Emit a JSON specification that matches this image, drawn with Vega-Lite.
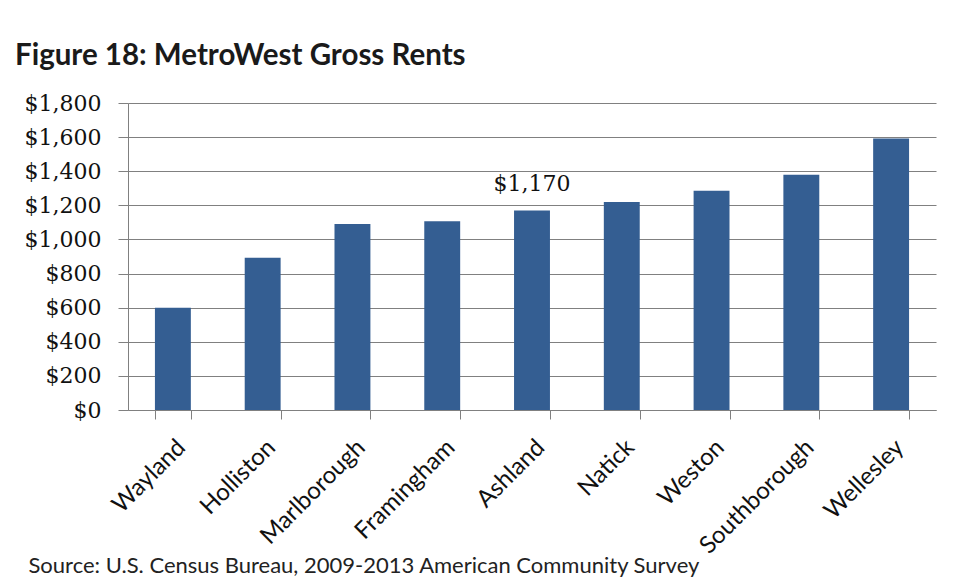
{
  "$schema": "https://vega.github.io/schema/vega-lite/v6.json",
  "width": 808,
  "height": 307,
  "autosize": {"type": "none"},
  "padding": {"left": 128, "top": 103, "right": 20, "bottom": 173},
  "background": "white",
  "title": {
    "text": "Figure 18: MetroWest Gross Rents",
    "anchor": "start",
    "frame": "group",
    "dx": -113,
    "offset": 21,
    "font": "Lato",
    "fontSize": 29.5,
    "fontWeight": "bold",
    "color": "#1a1a1a"
  },
  "data": {
    "values": [
      {"town": "Wayland", "rent": 600},
      {"town": "Holliston", "rent": 892},
      {"town": "Marlborough", "rent": 1090},
      {"town": "Framingham", "rent": 1107},
      {"town": "Ashland", "rent": 1170},
      {"town": "Natick", "rent": 1220},
      {"town": "Weston", "rent": 1286},
      {"town": "Southborough", "rent": 1380},
      {"town": "Wellesley", "rent": 1592}
    ]
  },
  "encoding": {
    "x": {
      "field": "town",
      "type": "nominal",
      "sort": null,
      "scale": {"paddingInner": 0.6, "paddingOuter": 0.3},
      "axis": {
        "title": "Source: U.S. Census Bureau, 2009-2013   American Community Survey",
        "titleAnchor": "start",
        "titleAlign": "left",
        "titleX": -100,
        "titleY": 162,
        "titleBaseline": "alphabetic",
        "titleFont": "Lato",
        "titleFontSize": 22,
        "titleFontWeight": "normal",
        "titleColor": "#222222",
        "labelAngle": -45,
        "labelFont": "Lato",
        "labelFontSize": 24,
        "labelColor": "#111111",
        "labelPadding": 16,
        "labelOverlap": false,
        "tickBand": "extent",
        "tickSize": 9,
        "tickColor": "#808080",
        "domainColor": "#808080",
        "grid": false
      }
    },
    "y": {
      "field": "rent",
      "type": "quantitative",
      "scale": {"domain": [0, 1800], "nice": false},
      "axis": {
        "title": null,
        "values": [0, 200, 400, 600, 800, 1000, 1200, 1400, 1600, 1800],
        "format": "$,.0f",
        "labelOverlap": false,
        "labelFont": "DejaVu Serif",
        "labelFontSize": 22,
        "labelColor": "#111111",
        "labelPadding": 17,
        "tickSize": 10,
        "tickColor": "#808080",
        "domainColor": "#808080",
        "gridColor": "#808080",
        "gridWidth": 1.2,
        "gridOpacity": 1
      }
    }
  },
  "layer": [
    {
      "mark": {"type": "bar", "color": "#345e92"}
    },
    {
      "transform": [{"filter": "datum.town == 'Ashland'"}],
      "mark": {
        "type": "text",
        "font": "DejaVu Serif",
        "fontSize": 22,
        "color": "#111111",
        "baseline": "alphabetic",
        "dy": -19
      },
      "encoding": {
        "text": {"field": "rent", "type": "quantitative", "format": "$,.0f"}
      }
    }
  ],
  "config": {"view": {"stroke": null}}
}
